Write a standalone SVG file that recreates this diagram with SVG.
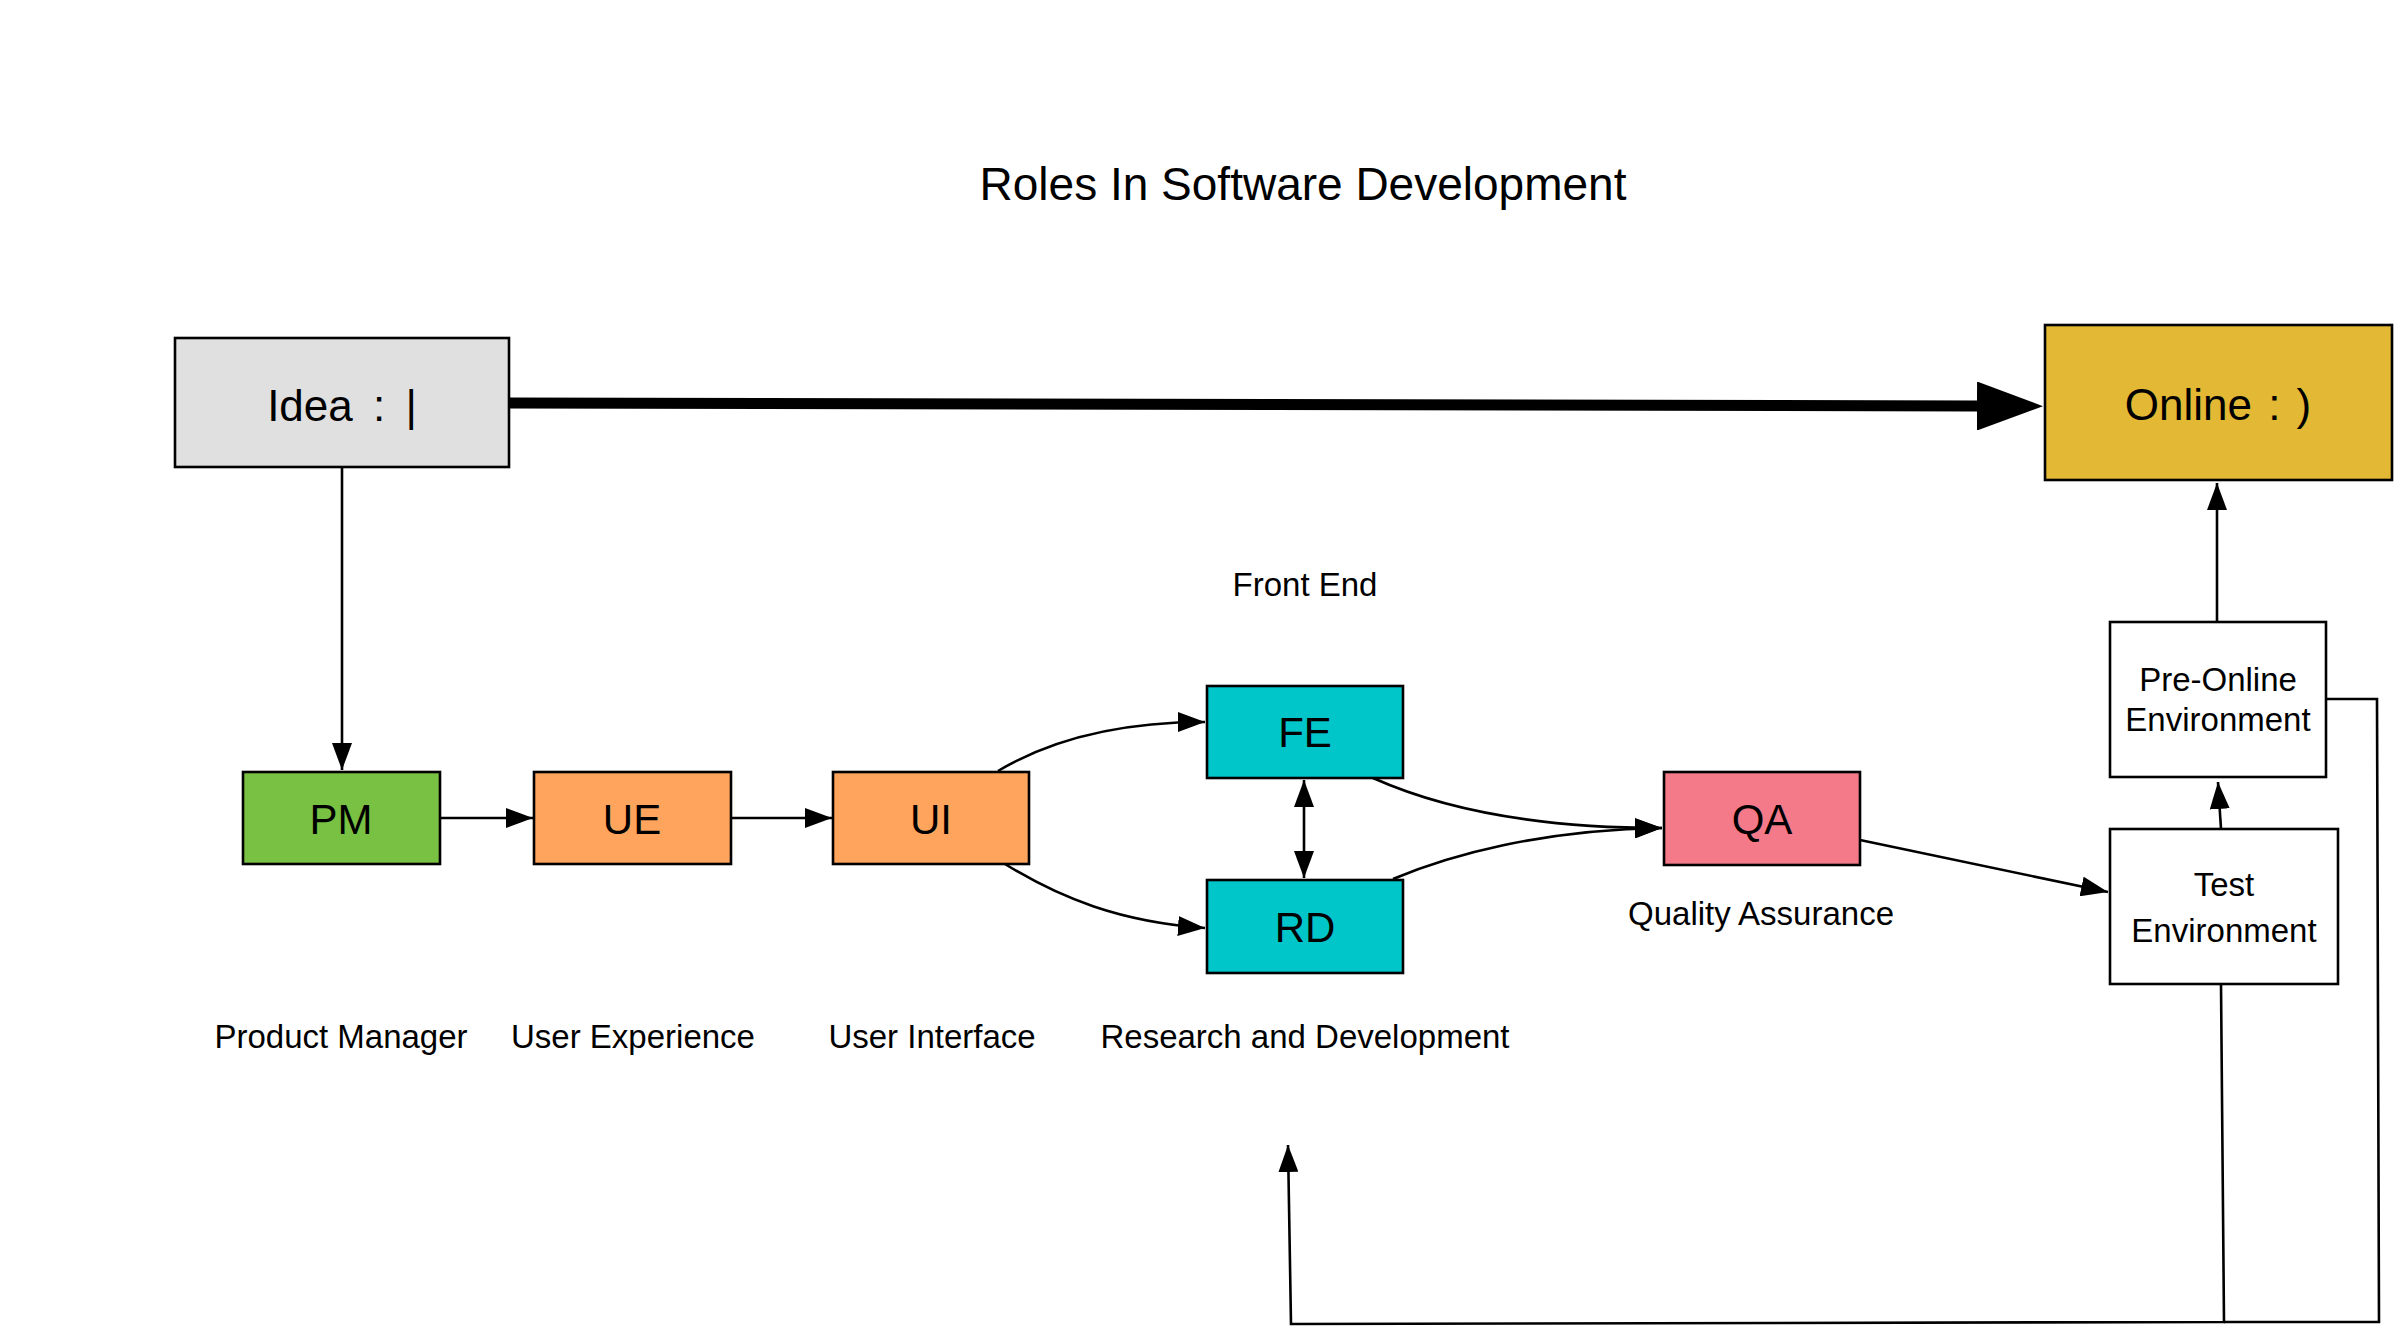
<svg xmlns="http://www.w3.org/2000/svg" width="2402" height="1336" viewBox="0 0 2402 1336">
<defs>
<style>
.box{stroke:#000;stroke-width:2.6}
.lbl{font-family:"Liberation Sans",Arial,Helvetica,sans-serif;fill:#000}
.big{font-size:42px;text-anchor:middle}
.huge{font-size:44px;text-anchor:middle}
.cap{font-size:33px;text-anchor:middle}
.con{fill:none;stroke:#000;stroke-width:2.6}
.thick{fill:none;stroke:#000;stroke-width:11;stroke-linecap:round}
</style>
<marker id="arr" markerUnits="userSpaceOnUse" markerWidth="27" markerHeight="20" refX="27" refY="10" orient="auto-start-reverse" viewBox="0 0 27 20">
<path d="M0,0 L27,10 L0,20 Z" fill="#000"/>
</marker>
<marker id="bigarr" markerUnits="userSpaceOnUse" markerWidth="66" markerHeight="49" refX="0" refY="24.5" orient="auto" viewBox="0 0 66 49">
<path d="M0,0 L66,24.5 L0,49 Z" fill="#000"/>
</marker>
</defs>
<rect width="2402" height="1336" fill="#fff"/>
<text class="lbl" x="1303" y="200" font-size="46" text-anchor="middle">Roles In Software Development</text>
<g id="connectors">
<path class="thick" d="M503,403 L1977,406" marker-end="url(#bigarr)"/>
<path class="con" d="M342,467 L342,770" marker-end="url(#arr)"/>
<path class="con" d="M440,818 L533,818" marker-end="url(#arr)"/>
<path class="con" d="M731,818 L832,818" marker-end="url(#arr)"/>
<path class="con" d="M998,771 C1050,740 1120,722 1205,722" marker-end="url(#arr)"/>
<path class="con" d="M1005,864 C1060,898 1120,922 1205,928" marker-end="url(#arr)"/>
<path class="con" d="M1304,780 L1304,878" marker-start="url(#arr)" marker-end="url(#arr)"/>
<path class="con" d="M1373,778 C1440,808 1530,828 1662,828" marker-end="url(#arr)"/>
<path class="con" d="M1393,879 C1450,855 1540,830 1662,828" marker-end="url(#arr)"/>
<path class="con" d="M1860,840 L2108,892" marker-end="url(#arr)"/>
<path class="con" d="M2221,829 L2218,782" marker-end="url(#arr)"/>
<path class="con" d="M2217,622 L2217,483" marker-end="url(#arr)"/>
<path class="con" d="M2326,699 L2377,699 L2379,1322 L2224,1322"/>
<path class="con" d="M2221,984 L2224,1322 L1291,1324 L1288,1145" marker-end="url(#arr)"/>
</g>
<g id="idea">
<rect class="box" x="175" y="338" width="334" height="129" fill="#e0e0e0"/>
<text class="lbl huge" x="342" y="421" word-spacing="8">Idea : |</text>
</g>
<g id="online">
<rect class="box" x="2045" y="325" width="347" height="155" fill="#e3b834"/>
<text class="lbl huge" x="2218" y="420" word-spacing="4">Online : )</text>
</g>
<g id="pm">
<rect class="box" x="243" y="772" width="197" height="92" fill="#79c142"/>
<text class="lbl big" x="341" y="834">PM</text>
<text class="lbl cap" x="341" y="1048">Product Manager</text>
</g>
<g id="ue">
<rect class="box" x="534" y="772" width="197" height="92" fill="#ffa45c"/>
<text class="lbl big" x="632" y="834">UE</text>
<text class="lbl cap" x="633" y="1048">User Experience</text>
</g>
<g id="ui">
<rect class="box" x="833" y="772" width="196" height="92" fill="#ffa45c"/>
<text class="lbl big" x="931" y="834">UI</text>
<text class="lbl cap" x="932" y="1048">User Interface</text>
</g>
<g id="fe">
<text class="lbl cap" x="1305" y="596">Front End</text>
<rect class="box" x="1207" y="686" width="196" height="92" fill="#00c5c9"/>
<text class="lbl big" x="1305" y="747">FE</text>
</g>
<g id="rd">
<rect class="box" x="1207" y="880" width="196" height="93" fill="#00c5c9"/>
<text class="lbl big" x="1305" y="942">RD</text>
<text class="lbl cap" x="1305" y="1048">Research and Development</text>
</g>
<g id="qa">
<rect class="box" x="1664" y="772" width="196" height="93" fill="#f47a8a"/>
<text class="lbl big" x="1762" y="834">QA</text>
<text class="lbl cap" x="1761" y="925">Quality Assurance</text>
</g>
<g id="preonline">
<rect class="box" x="2110" y="622" width="216" height="155" fill="#fff"/>
<text class="lbl cap" x="2218" y="691">Pre-Online</text>
<text class="lbl cap" x="2218" y="731">Environment</text>
</g>
<g id="test">
<rect class="box" x="2110" y="829" width="228" height="155" fill="#fff"/>
<text class="lbl cap" x="2224" y="896">Test</text>
<text class="lbl cap" x="2224" y="942">Environment</text>
</g>
</svg>
